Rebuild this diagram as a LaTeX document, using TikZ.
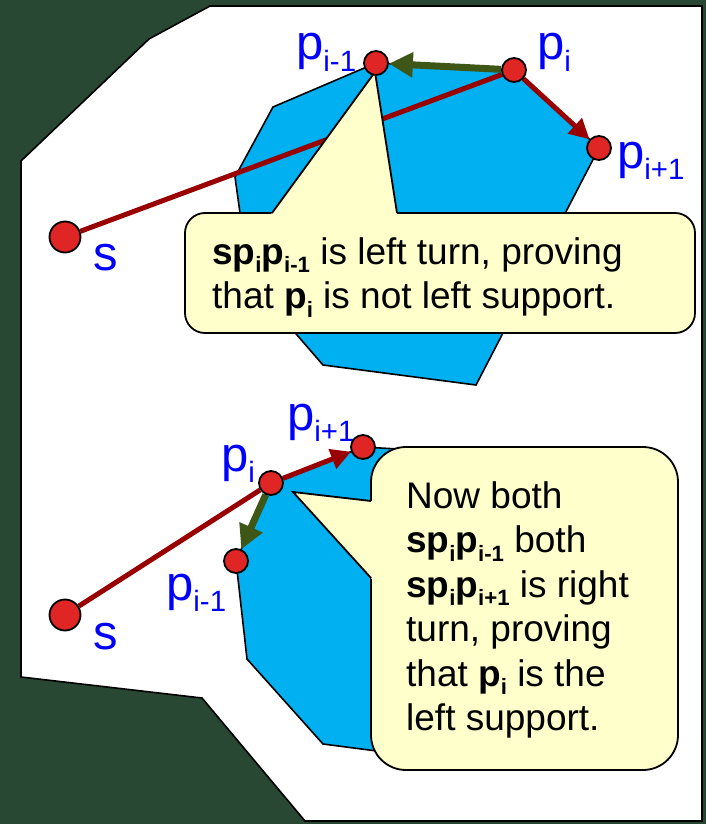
\documentclass[tikz,border=0pt]{standalone}
\usepackage{fontspec}
\setmainfont{Liberation Sans}
\usepackage{tikz}
\usetikzlibrary{calc, arrows.meta}
\definecolor{board}{RGB}{40,72,52}
\definecolor{hullblue}{RGB}{0,176,240}
\definecolor{dotred}{RGB}{224,38,36}
\definecolor{edgered}{RGB}{153,0,0}
\definecolor{edgegreen}{RGB}{62,86,22}
\definecolor{notefill}{RGB}{255,255,204}
\newcommand{\sub}[1]{\raisebox{-.23em}{\scalebox{.6}{#1}}}
\pgfdeclarelayer{front}
\pgfsetlayers{main,front}

\begin{document}
\begin{tikzpicture}[x=1pt, y=-1pt,
		dot/.style={circle, draw=black, line width=1.8pt, fill=dotred, minimum size=24pt, inner sep=0pt},
		bigdot/.style={dot, minimum size=31pt},
		lbl/.style={text=blue, font=\fontsize{49}{49}\selectfont, inner sep=0pt, anchor=base west},
		hull/.style={fill=hullblue, draw=black, line width=1.6pt},
		seg/.style={draw=edgered, line width=5pt},
		redarr/.style={seg, -{Triangle[length=20pt, width=20pt]}},
		greenarr/.style={draw=edgegreen, line width=7pt, -{Triangle[length=24pt, width=24pt]}},
		note/.style={fill=notefill, draw=black, line width=1.8pt, rounded corners=20pt},
		notetext/.style={font=\fontsize{37}{44.5}\selectfont, align=left, inner sep=0pt, anchor=north west}]
			\useasboundingbox (0,0) rectangle (706,824);
			\fill[board] (0,0) rectangle (706,824);
			\draw[fill=white, line width=1.6pt] (210,6) -- (702,6) -- (702,821) -- (305,821) -- (202,698) -- (21,677) -- (21,161) -- (149,39) -- cycle;
			\begin{pgfonlayer}{front}
				\node[bigdot] (s1) at (65,237) {};
				\node[dot] (prev1) at (376,63) {};
				\node[dot] (cur1) at (514,70) {};
				\node[dot] (next1) at (599,148) {};
				\node[bigdot] (s2) at (65,615) {};
				\node[dot] (prev2) at (236,561) {};
				\node[dot] (cur2) at (271,483) {};
				\node[dot] (next2) at (363,447) {};
			\end{pgfonlayer}
			\draw[hull] (prev1.center) -- (cur1.center) -- (next1.center) -- (476,385) -- (323,365) -- (297,335) -- (252,280) -- (240,213) -- (235,177) -- (273,107) -- cycle;
			\draw[seg] (s1) -- (cur1);
			\draw[greenarr] (cur1) -- (prev1);
			\draw[redarr] (cur1) -- (next1);
			\coordinate (tip1) at (375,72);
			\draw[note] (185,213) rectangle (695,333);
			\fill[notefill] ($(tip1)!1.04!(272,213)$) -- (tip1) -- ($(tip1)!1.04!(397,213)$) -- cycle;
			\draw[line width=1.8pt] (272,213) -- (tip1) -- (397,213);
			\node[notetext] (note1) at (212,237) {\textbf{sp\sub{i}p\sub{i-1}} is left turn, proving\\that \textbf{p\sub{i}} is not left support.};
			\draw[hull] (cur2.center) -- (next2.center) -- (450,452) -- (440,740) -- (400,754) -- (323,744) -- (247,659) -- (prev2.center) -- cycle;
			\draw[seg] (s2) -- (cur2);
			\draw[redarr] (cur2) -- (next2);
			\draw[greenarr] (cur2) -- (prev2);
			\coordinate (tip2) at (293,492);
			\draw[note, rounded corners=35pt] (371,447) rectangle (678,770);
			\fill[notefill] ($(tip2)!1.05!(371,501)$) -- (tip2) -- ($(tip2)!1.05!(371,578)$) -- cycle;
			\draw[line width=1.8pt] (371,501) -- (tip2) -- (371,578);
			\node[notetext] (note2) at (406,481) {Now both\\\textbf{sp\sub{i}p\sub{i-1}} both\\\textbf{sp\sub{i}p\sub{i+1}} is right\\turn, proving\\that \textbf{p\sub{i}} is the\\left support.};
			\node[lbl] (lprev1) at (296,60) {p\sub{i-1}};
			\node[lbl] (lcur1) at (537,60) {p\sub{i}};
			\node[lbl] (lnext1) at (617,168) {p\sub{i+1}};
			\node[lbl] (ls1) at (93,270) {s};
			\node[lbl] (lnext2) at (287,430) {p\sub{i+1}};
			\node[lbl] (lcur2) at (221,471) {p\sub{i}};
			\node[lbl] (lprev2) at (166,600) {p\sub{i-1}};
			\node[lbl] (ls2) at (93,649) {s};
		\end{tikzpicture}
\end{document}
